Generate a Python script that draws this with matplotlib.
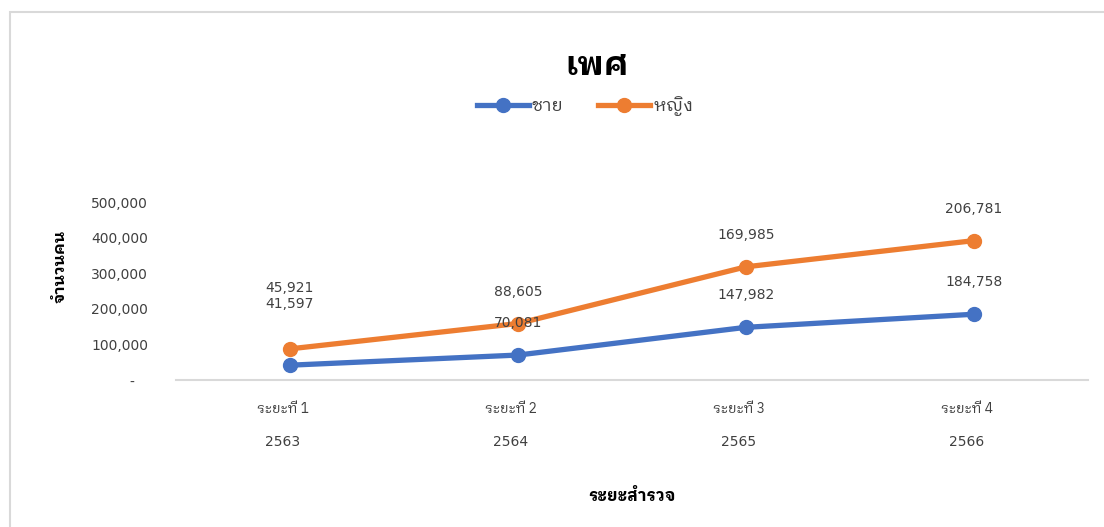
import matplotlib
matplotlib.use("Agg")
import matplotlib.pyplot as plt
from matplotlib.patches import Rectangle
from matplotlib.lines import Line2D
import numpy as np

NUM_FONT = ['DejaVu Sans', 'IBM Plex Sans Thai Looped']
THAI_FONT = ['IBM Plex Sans Thai Looped', 'Noto Sans Thai Looped', 'DejaVu Sans']
plt.rcParams['font.family'] = NUM_FONT

title = "เพศ"
series_names = ["ชาย", "หญิง"]
periods = ["ระยะที่ 1", "ระยะที่ 2", "ระยะที่ 3", "ระยะที่ 4"]
years = ["2563", "2564", "2565", "2566"]
male = [41597, 70081, 147982, 184758]
female = [45921, 88605, 169985, 206781]
yticks = [0, 100000, 200000, 300000, 400000, 500000]
ytick_labels = ["-", "100,000", "200,000", "300,000", "400,000", "500,000"]
ylabel = "จำนวนคน"
xlabel = "ระยะสำรวจ"

blue = "#4472C4"
orange = "#ED7D31"
text_c = "#404040"

fig = plt.figure(figsize=(11.04, 5.27), dpi=100)
W, H = 1104, 527

# chart border
fig.patches.append(Rectangle((10 / W, -0.1), 1.2, (H - 12) / H + 0.1, transform=fig.transFigure,
                             fill=False, edgecolor="#D9D9D9", linewidth=1.5))

ax = fig.add_axes([176 / W, (H - 380) / H, (1088 - 176) / W, (380 - 202) / H])
x = np.arange(len(periods))
male_arr = np.array(male)
stack = male_arr + np.array(female)

ax.plot(x, male_arr, color=blue, lw=3.8, marker='o', ms=10, solid_capstyle='round', zorder=3)
ax.plot(x, stack, color=orange, lw=3.8, marker='o', ms=10, solid_capstyle='round', zorder=3)

# Excel moved the first pair of labels upward to avoid overlap
extra = [21, 0, 0, 0]
for xi, yv, lab, e in zip(x, male_arr, male, extra):
    ax.annotate(f"{lab:,}", (xi, yv), xytext=(0, 18 + e), textcoords='offset points',
                ha='center', va='bottom', fontsize=10, color=text_c, zorder=4)
for xi, yv, lab, e in zip(x, stack, female, extra):
    ax.annotate(f"{lab:,}", (xi, yv), xytext=(0, 18 + e), textcoords='offset points',
                ha='center', va='bottom', fontsize=10, color=text_c, zorder=4)

ax.set_xlim(-0.5, len(periods) - 0.5)
ax.set_ylim(0, 500000)
ax.set_yticks(yticks)
# accounting format: the dash for zero is padded on the right
ax.set_yticklabels([l + "   " if l == "-" else l for l in ytick_labels])
ax.set_xticks(x)
ax.set_xticklabels([])
ax.tick_params(axis='both', length=0, labelsize=10, colors=text_c)
ax.tick_params(axis='y', pad=20)
for s in ['top', 'right', 'left']:
    ax.spines[s].set_visible(False)
ax.spines['bottom'].set_color("#D9D9D9")
ax.spines['bottom'].set_linewidth(1.5)
ax.set_facecolor('none')

# two-line category labels
for xi, p, yr in zip(x, periods, years):
    ax.annotate(p, (xi, 0), xytext=(-5, -21), textcoords='offset points', ha='center',
                va='center', fontsize=10, color=text_c, family=THAI_FONT,
                annotation_clip=False)
    ax.annotate(yr, (xi, 0), xytext=(-5, -45), textcoords='offset points', ha='center',
                va='center', fontsize=10, color=text_c, annotation_clip=False)

fig.text(60 / W, 1 - 266 / H, ylabel, rotation=90, ha='center', va='center',
         fontsize=11.5, fontweight='bold', color='black', family=THAI_FONT)
fig.text(632 / W, 1 - 496 / H, xlabel, ha='center', va='center',
         fontsize=12, fontweight='bold', color='black', family=THAI_FONT)
fig.text(597 / W, 1 - 66 / H, title, ha='center', va='center',
         fontsize=24, fontweight='bold', color='black', family=THAI_FONT)

handles = [Line2D([], [], color=blue, lw=3.8, marker='o', ms=10),
           Line2D([], [], color=orange, lw=3.8, marker='o', ms=10)]
fig.legend(handles, series_names, loc='center', bbox_to_anchor=(585 / W, 1 - 106 / H),
           ncol=2, frameon=False, handlelength=2.9, handletextpad=0.15,
           columnspacing=1.9, labelcolor=text_c,
           prop={'family': THAI_FONT, 'size': 13})

fig.savefig("out.png", dpi=100)
